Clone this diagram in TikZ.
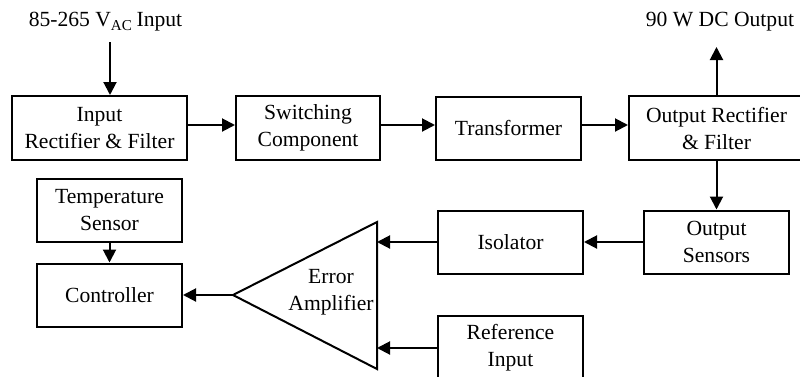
\documentclass[tikz,border=0pt]{standalone}
\usepackage{fontspec}
\setmainfont{Liberation Serif}
\usetikzlibrary{arrows.meta}

\begin{document}
\begin{tikzpicture}[x=0.5pt, y=-0.5pt, line width=1pt,
    >={Triangle[length=6.5pt,width=6.5pt]},
    font=\fontsize{10.8}{13.5}\selectfont,
    blk/.style={draw, align=center, inner sep=0pt,
      minimum width=72.5pt, minimum height=31.5pt},
    wideblk/.style={blk, minimum width=87.5pt, minimum height=32pt}]
        \useasboundingbox (0,0) rectangle (800,376);
        \clip (0,0) rectangle (800,376);
        % power path
        \node[wideblk] (inrect) at (99.5,128) {Input\\Rectifier \& Filter};
        \node[blk, minimum width=72pt, minimum height=32pt] (switch) at (308,128) {Switching\\Component};
        \node[blk] (xfmr) at (508.5,128) {Transformer};
        \node[wideblk] (outrect) at (716.5,128) {Output Rectifier\\\& Filter};
        \node (acin) at (105.5,22) {85-265 V\textsubscript{AC}\,Input};
        \node (dcout) at (720,22) {90 W DC Output};
        \coordinate (acsrc) at (110,42);
        \coordinate (dcdst) at (716.5,47);
        % feedback path
        \node[blk] (osens) at (716.5,242) {Output\\Sensors};
        \node[blk] (isol) at (510.5,242) {Isolator};
        \node[blk, minimum height=32pt] (refin) at (510.5,348) {Reference\\Input};
        \node[blk] (tsens) at (109.5,210.5) {Temperature\\Sensor};
        \node[blk] (ctrl) at (109.5,295) {Controller};
        % error amplifier
        \coordinate (ampout) at (233,295);
        \coordinate (ampinA) at (377,242);
        \coordinate (ampinB) at (377,348);
        \draw (ampout) -- (377,222) -- (377,369) -- cycle;
        \node[align=center] (amp) at (331,292) {Error\\Amplifier};
        % connections
        \draw[->] (acsrc) -- (acsrc |- inrect.north);
        \draw[->] ([yshift=1.5pt]inrect.east) -- ([yshift=1.5pt]switch.west);
        \draw[->] ([yshift=1.5pt]switch.east) -- ([yshift=1.5pt]xfmr.west);
        \draw[->] ([yshift=1.5pt]xfmr.east) -- ([yshift=1.5pt]outrect.west);
        \draw[->] (outrect.north) -- (dcdst);
        \draw[->] (outrect.south) -- (osens.north);
        \draw[->] (osens.west) -- (isol.east);
        \draw[->] (isol.west) -- (ampinA);
        \draw[->] (refin.west) -- (ampinB);
        \draw[->] (ampout) -- (ctrl.east);
        \draw[->] (tsens.south) -- (ctrl.north);
\end{tikzpicture}
\end{document}
